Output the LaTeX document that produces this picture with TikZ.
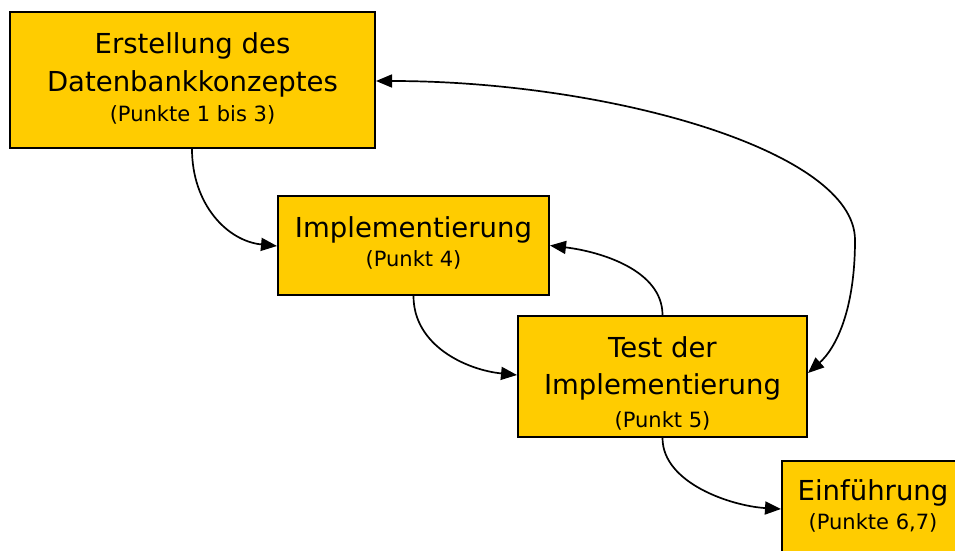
\documentclass[tikz,border=0pt]{standalone}
\usepackage{fontspec}
\setmainfont{DejaVu Sans}
\usetikzlibrary{arrows.meta,calc}
\definecolor{boxfill}{HTML}{FFCC00}
\begin{document}
\begin{tikzpicture}[x=1pt,y=-1pt,
  box/.style={draw=black,line width=2pt,fill=boxfill,inner sep=0pt},
  big/.style={anchor=base,inner sep=0pt,font=\fontsize{27.5}{33}\selectfont},
  small/.style={anchor=base,inner sep=0pt,font=\fontsize{21}{25}\selectfont},
  conn/.style={line width=1.7pt,-{Triangle[length=16pt,width=13pt]}},
  dconn/.style={line width=1.7pt,{Triangle[length=16pt,width=13pt]}-{Triangle[length=16pt,width=13pt]}}]
\clip (0,0) rectangle (955,551);
\fill[white] (0,0) rectangle (955,551);
% boxes
\node[box,minimum width=365pt,minimum height=136pt] (b1) at (192.5,80) {};
\node[box,minimum width=271pt,minimum height=99pt] (b2) at (413.5,245.5) {};
\node[box,minimum width=289pt,minimum height=121pt] (b3) at (662.5,376.5) {};
\node[box,minimum width=182pt,minimum height=92pt] (b4) at (873,507) {};
% texts
\node[big] (t1a) at (192.5,53) {Erstellung des};
\node[big] (t1b) at (192.5,91) {Datenbankkonzeptes};
\node[small] (t1c) at (192.5,121) {(Punkte 1 bis 3)};
\node[big] (t2a) at (413.5,237) {Implementierung};
\node[small] (t2b) at (413.5,266) {(Punkt 4)};
\node[big] (t3a) at (662.5,357) {Test der};
\node[big] (t3b) at (662.5,394) {Implementierung};
\node[small] (t3c) at (662.5,427) {(Punkt 5)};
\node[big] (t4a) at (873,500) {Einführung};
\node[small] (t4b) at (873,529) {(Punkte 6,7)};
% connectors
\draw[conn] ($(b1.south west)+(183,0)$) .. controls +(0,55) and +(-50,-5) .. ($(b2.west)+(0,0.5)$);
\draw[conn] (b2.south) .. controls +(0,50) and +(-50,-5) .. ($(b3.west)+(0,-1.5)$);
\draw[conn] (b3.north) .. controls +(0,-45) and +(50,6) .. (b2.east);
\draw[conn] (b3.south) .. controls +(0,45) and +(-50,-3) .. ($(b4.west)+(0,2)$);
\draw[dconn] ($(b1.east)+(0,1)$) .. controls +(230,0) and +(0,-90) .. ($(b3.east)+(47,-136.5)$)
  .. controls +(0,70) and +(28,-25) .. ($(b3.east)+(0,-3.5)$);
\end{tikzpicture}
\end{document}
